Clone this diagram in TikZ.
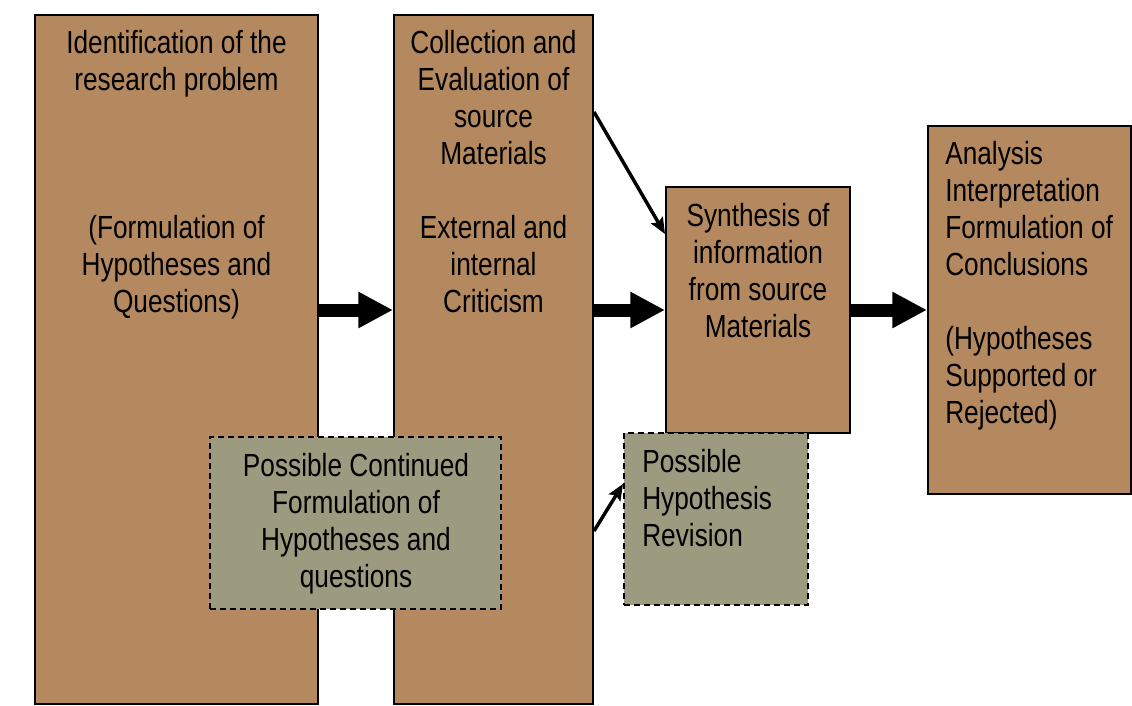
\documentclass[tikz,border=0pt]{standalone}
\usepackage{fontspec}
\setmainfont[FakeStretch=0.82]{Liberation Sans}
\usetikzlibrary{calc, arrows.meta}
\definecolor{boxBrown}{RGB}{180,137,96}
\definecolor{boxGrey}{RGB}{156,154,127}

\begin{document}
\begin{tikzpicture}[x=0.75pt, y=-0.75pt,
	brownbox/.style={draw=black, line width=1.5pt, fill=boxBrown, inner sep=0pt},
	greybox/.style={draw=black, line width=1.5pt, dash pattern=on 4.5pt off 3pt, fill=boxGrey, inner sep=0pt},
	boxtext/.style={inner sep=0pt, font=\fontsize{24}{27.75}\selectfont},
	bigarrow/.style={line width=9.75pt, -{Triangle[length=26pt, width=25.5pt]}},
	thinarrow/.style={line width=2.6pt, -{Stealth[length=12pt, width=10pt, inset=2pt]}}]

	\useasboundingbox (0,0) rectangle (1132,706);

	% main boxes
	\node[brownbox, minimum width=212.25pt, minimum height=516.75pt] (identBox) at (176.5,359.5) {};
	\node[brownbox, minimum width=149.25pt, minimum height=516.75pt] (collectBox) at (493.5,359.5) {};
	\node[brownbox, minimum width=138pt, minimum height=184.5pt] (synthBox) at (758,310) {};
	\node[brownbox, minimum width=152.25pt, minimum height=276pt] (analysisBox) at (1029.5,310) {};

	\node[boxtext, align=center, anchor=north] (identText) at (176.5,30)
		{Identification of the\\research problem\\[83.25pt](Formulation of\\Hypotheses and\\Questions)};
	\node[boxtext, align=center, anchor=north] (collectText) at (493.5,30)
		{Collection and\\Evaluation of\\source\\Materials\\[27.75pt]External and\\internal\\Criticism};
	\node[boxtext, align=center, anchor=north] (synthText) at (758,203)
		{Synthesis of\\information\\from source\\Materials};
	\node[boxtext, align=left, anchor=north west] (analysisText) at (945,141)
		{Analysis\\Interpretation\\Formulation of\\Conclusions\\[27.75pt](Hypotheses\\Supported or\\Rejected)};

	% possible revisions
	\node[greybox, minimum width=218.25pt, minimum height=129pt] (contBox) at (355.5,523) {};
	\node[greybox, minimum width=138pt, minimum height=129pt] (revBox) at (716,519) {};

	\node[boxtext, align=center, anchor=north] (contText) at (356,453)
		{Possible Continued\\Formulation of\\Hypotheses and\\questions};
	\node[boxtext, align=left, anchor=north west] (revText) at (642,449)
		{Possible\\Hypothesis\\Revision};

	% arrows
	\draw[bigarrow] (identBox.east |- synthBox.west) -- (collectBox.west |- synthBox.west);
	\draw[bigarrow] (collectBox.east |- synthBox.west) -- (synthBox.west);
	\draw[bigarrow] (synthBox.east) -- (analysisBox.west);

	\draw[thinarrow] ($(collectBox.north east)+(0,98)$) -- ($(synthBox.north west)+(0,48)$);
	\draw[thinarrow] ($(collectBox.south east)+(0,-174)$) -- ($(revBox.north west)+(0,52)$);
\end{tikzpicture}
\end{document}
